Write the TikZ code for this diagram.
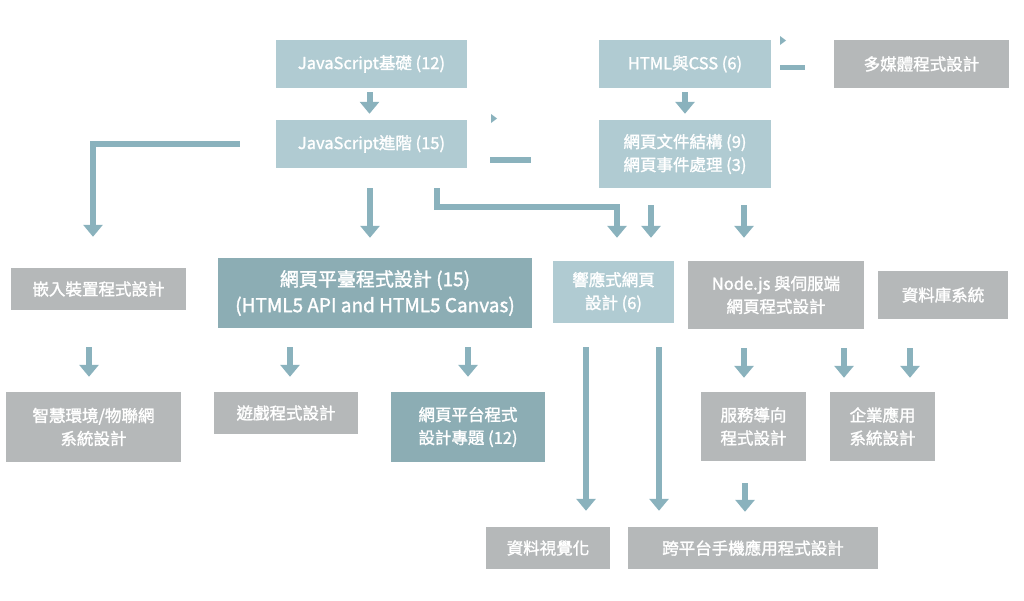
\documentclass[tikz,border=0pt]{standalone}
\usepackage{fontspec}
\setmainfont{Noto Sans CJK TC}[FakeBold=1.6]
\usepackage{xcolor}
\usepackage{tikz}
\usetikzlibrary{calc,arrows.meta}
\definecolor{lightteal}{HTML}{B0CBD2}
\definecolor{darkteal}{HTML}{8CADB4}
\definecolor{greyfill}{HTML}{B5B8B9}
\definecolor{arrowcol}{HTML}{8AB2BD}
\tikzset{
  box/.style={rectangle, inner sep=0pt, text=white, align=center,
    font=\fontsize{16.5}{23}\selectfont},
  lightbox/.style={box, fill=lightteal},
  darkbox/.style={box, fill=darkteal},
  greybox/.style={box, fill=greyfill},
  bigtext/.style={font=\fontsize{19}{26}\selectfont},
  flow/.style={draw=arrowcol, line width=6pt, -{Triangle[width=19pt,length=12pt]}},
  stub/.style={draw=arrowcol, line width=5.5pt},
}

\begin{document}
\begin{tikzpicture}[x=1pt,y=-1pt]
  \useasboundingbox (0,0) rectangle (1024,600);

  % top row
  \node[lightbox, minimum width=191pt, minimum height=48pt] (jsbasic) at (371.5,64) {JavaScript基礎 (12)};
  \node[lightbox, minimum width=191pt, minimum height=48pt] (jsadv) at (371.5,144) {JavaScript進階 (15)};
  \node[lightbox, minimum width=172pt, minimum height=48pt] (htmlcss) at (685,64) {HTML與CSS (6)};
  \node[greybox, minimum width=175pt, minimum height=48pt] (media) at (921.5,64) {多媒體程式設計};
  \node[lightbox, minimum width=172pt, minimum height=68pt] (dom) at (685,154) {網頁文件結構 (9)\\網頁事件處理 (3)};

  % middle row
  \node[greybox, minimum width=175pt, minimum height=42pt] (embed) at (98.5,289) {嵌入裝置程式設計};
  \node[darkbox, bigtext, minimum width=314pt, minimum height=70pt] (webplat) at (375,293) {網頁平臺程式設計 (15)\\(HTML5 API and HTML5 Canvas)};
  \node[lightbox, minimum width=121pt, minimum height=62pt] (rwd) at (613.5,292) {響應式網頁\\設計 (6)};
  \node[greybox, minimum width=176pt, minimum height=68pt] (nodejs) at (776,295) {Node.js 與伺服端\\網頁程式設計};
  \node[greybox, minimum width=130pt, minimum height=48pt] (db) at (943,295) {資料庫系統};

  % lower row
  \node[greybox, minimum width=175pt, minimum height=70pt] (iot) at (93.5,427) {智慧環境/物聯網\\系統設計};
  \node[greybox, minimum width=144pt, minimum height=42pt] (game) at (286,413) {遊戲程式設計};
  \node[darkbox, minimum width=154pt, minimum height=70pt] (project) at (468,427) {網頁平台程式\\設計專題 (12)};
  \node[greybox, minimum width=105pt, minimum height=69pt] (soa) at (753.5,426.5) {服務導向\\程式設計};
  \node[greybox, minimum width=105pt, minimum height=69pt] (enterprise) at (882.5,426.5) {企業應用\\系統設計};

  % bottom row
  \node[greybox, minimum width=124pt, minimum height=42pt] (vis) at (548,548) {資料視覺化};
  \node[greybox, minimum width=250pt, minimum height=42pt] (mobile) at (753,548) {跨平台手機應用程式設計};

  % arrows
  \draw[flow] ([xshift=-2pt,yshift=-4pt]jsbasic.south) -- ([xshift=-2pt,yshift=6pt]jsadv.north);
  \draw[flow] ([yshift=-4pt]htmlcss.south) -- ([yshift=6pt]dom.north);
  \draw[flow] ([xshift=-36pt]jsadv.west) -| ([xshift=-5.5pt,yshift=31pt]embed.north);
  \draw[flow] ([xshift=-1.5pt,yshift=-20pt]jsadv.south) -- ([xshift=-5pt,yshift=20pt]webplat.north);
  \draw[flow] ([xshift=65.5pt,yshift=-20pt]jsadv.south) -- ++(0,19) -| ([xshift=3.5pt,yshift=23pt]rwd.north);
  \draw[flow] ([xshift=-34pt,yshift=-17pt]dom.south) -- ([xshift=37.5pt,yshift=23pt]rwd.north);
  \draw[flow] ([xshift=59pt,yshift=-17pt]dom.south) -- ([xshift=-32pt,yshift=23pt]nodejs.north);

  % loose stubs
  \fill[arrowcol] (491,114) -- (497,118.5) -- (491,123) -- cycle;
  \draw[stub] (490,160) -- (531,160);
  \fill[arrowcol] (780,36) -- (786,40.5) -- (780,45) -- cycle;
  \draw[stub] (780,67.5) -- (805,67.5);

  \draw[flow] ([xshift=-9.5pt,yshift=-37pt]embed.south) -- ([xshift=-4.5pt,yshift=15pt]iot.north);
  \draw[flow] ([xshift=-85pt,yshift=-19pt]webplat.south) -- ([xshift=4pt,yshift=15pt]game.north);
  \draw[flow] ([xshift=93pt,yshift=-19pt]webplat.south) -- ([xshift=0pt,yshift=15pt]project.north);
  \draw[flow] ([xshift=-27.5pt,yshift=-24pt]rwd.south) -- ([xshift=38pt,yshift=16pt]vis.north);
  \draw[flow] ([xshift=45.5pt,yshift=-24pt]rwd.south) -- ([xshift=-94pt,yshift=16pt]mobile.north);
  \draw[flow] ([xshift=-32pt,yshift=-19pt]nodejs.south) -- ([xshift=-9.5pt,yshift=14pt]soa.north);
  \draw[flow] ([xshift=68pt,yshift=-19pt]nodejs.south) -- ([xshift=-38.5pt,yshift=14pt]enterprise.north);
  \draw[flow] ([xshift=-33pt,yshift=-29pt]db.south) -- ([xshift=27.5pt,yshift=14pt]enterprise.north);
  \draw[flow] ([xshift=-8.5pt,yshift=-22pt]soa.south) -- ([xshift=-8pt,yshift=15pt]mobile.north);
\end{tikzpicture}
\end{document}
